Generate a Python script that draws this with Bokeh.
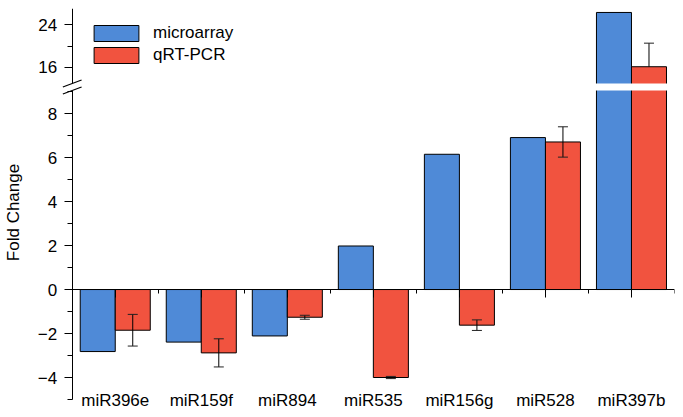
import numpy as np
from bokeh.plotting import figure
from bokeh.models import (Range1d, LinearAxis, FixedTicker, ColumnDataSource, Whisker, TeeHead,
                          BoxAnnotation, Legend, LegendItem)
from bokeh.embed import file_html
from bokeh.resources import INLINE

# ---------------- data ----------------
categories = ["miR396e", "miR159f", "miR894", "miR535", "miR156g", "miR528", "miR397b"]
microarray = [-2.82, -2.39, -2.11, 1.98, 6.15, 6.91, 26.26]
qrt_pcr = [-1.85, -2.88, -1.26, -4.00, -1.62, 6.71, 16.13]
qrt_pcr_err = [0.72, 0.64, 0.09, 0.05, 0.24, 0.69, 4.4]

lower_ticks = [-4, -2, 0, 2, 4, 6, 8]
lower_minor = [-5, -3, -1, 1, 3, 5, 7, 9]
upper_ticks = [16, 24]
upper_minor = [20]

LOW = (-5.0, 9.05)   # lower segment of the broken axis
UP = (13.0, 27.0)    # upper segment of the broken axis

# ---------------- style / layout ----------------
FONT = "Liberation Sans"
FS = "17px"
BLUE = "#4F8AD7"
RED = "#F1533F"

W, H = 682, 416
TOP = 8
FRAME_H = H - TOP
LOW_PX, GAP_PX, UP_PX = 309, 7, 75
BOTTOM_PX = FRAME_H - (LOW_PX + GAP_PX + UP_PX)   # room for category labels inside frame
X0 = 0.45                                         # frame extends left of the y axis
BORDER_L = 33
BORDER_R = W - 674

low_scale = LOW_PX / (LOW[1] - LOW[0])
up_scale = UP_PX / (UP[1] - UP[0])
y_lower = Range1d(LOW[0] - BOTTOM_PX / low_scale,
                  LOW[0] + (FRAME_H - BOTTOM_PX) / low_scale)
y_upper = Range1d(UP[1] - FRAME_H / up_scale, UP[1])

n = len(categories)
x_range = Range1d(-X0, n)

p = figure(width=W, height=H, x_range=x_range, y_range=y_lower,
           output_backend="svg", toolbar_location=None,
           min_border_left=BORDER_L, min_border_right=BORDER_R,
           min_border_top=TOP, min_border_bottom=0,
           x_axis_type=None, y_axis_type=None, outline_line_color=None,
           background_fill_color="white", border_fill_color="white")
p.extra_y_ranges = {"up": y_upper}

centers = np.arange(n) + 0.5
bw = 0.407
xb = centers - bw / 2
xr = centers + bw / 2
mic = np.array(microarray)
q = np.array(qrt_pcr)
e = np.array(qrt_pcr_err)

# lower segment bars (clipped into the hidden gap)
clip_top = LOW[1] + 0.2
low_src = ColumnDataSource(dict(xb=xb, xr=xr,
                                mic=np.minimum(mic, clip_top),
                                q=np.minimum(q, clip_top)))
rb = p.vbar(x="xb", top="mic", bottom=0, width=bw, source=low_src,
            fill_color=BLUE, line_color="black", line_width=1)
rr = p.vbar(x="xr", top="q", bottom=0, width=bw, source=low_src,
            fill_color=RED, line_color="black", line_width=1)

# upper segment bars
mb = mic > UP[0]
mr = q > UP[0]
p.vbar(x=xb[mb], top=mic[mb], bottom=UP[0] - 0.5, width=bw, y_range_name="up",
       fill_color=BLUE, line_color="black", line_width=1)
p.vbar(x=xr[mr], top=q[mr], bottom=UP[0] - 0.5, width=bw, y_range_name="up",
       fill_color=RED, line_color="black", line_width=1)

# error bars
lm = q <= LOW[1]
wsrc = ColumnDataSource(dict(x=xr[lm], upper=(q + e)[lm], lower=(q - e)[lm]))
p.add_layout(Whisker(base="x", upper="upper", lower="lower", source=wsrc, level="annotation",
                     line_color="black", line_width=1,
                     upper_head=TeeHead(size=10, line_color="#222222", line_width=1),
                     lower_head=TeeHead(size=10, line_color="#222222", line_width=1)))
wsrc2 = ColumnDataSource(dict(x=xr[mr], upper=(q + e)[mr], lower=q[mr]))
p.add_layout(Whisker(base="x", upper="upper", lower="lower", source=wsrc2, level="annotation",
                     y_range_name="up", line_color="black", line_width=1,
                     upper_head=TeeHead(size=10, line_color="#222222", line_width=1),
                     lower_head=None))

# white band of the axis break
gap_top = LOW[1] + GAP_PX / low_scale
p.add_layout(BoxAnnotation(left=0, right=n, bottom=LOW[1], top=gap_top,
                           fill_color="white", fill_alpha=1, line_color=None, level="annotation"))

# break marks
brk = p.scatter(x=[0, 0], y=[LOW[1], gap_top], marker="dash", size=20, angle=0.36,
                line_color="black", line_width=1.2)
brk.level = "overlay"

def style_y(ax):
    ax.axis_line_color = "black"
    ax.axis_line_width = 1
    ax.major_tick_out = 8
    ax.major_tick_in = 0
    ax.minor_tick_out = 5
    ax.minor_tick_in = 0
    ax.major_tick_line_color = "black"
    ax.minor_tick_line_color = "black"
    ax.major_label_standoff = 7
    ax.major_label_text_font = FONT
    ax.major_label_text_font_size = FS
    ax.major_label_text_color = "black"

ax_low = LinearAxis(fixed_location=0, bounds=LOW,
                    ticker=FixedTicker(ticks=lower_ticks, minor_ticks=lower_minor))
style_y(ax_low)
p.add_layout(ax_low, "left")

ax_up = LinearAxis(y_range_name="up", fixed_location=0, bounds=UP,
                   ticker=FixedTicker(ticks=upper_ticks, minor_ticks=upper_minor))
style_y(ax_up)
p.add_layout(ax_up, "left")

ax_lab = LinearAxis(ticker=FixedTicker(ticks=[]),
                    axis_line_color=None, major_tick_line_color=None, minor_tick_line_color=None,
                    axis_label="Fold Change", axis_label_standoff=11,
                    axis_label_text_font=FONT, axis_label_text_font_size=FS,
                    axis_label_text_font_style="normal", axis_label_text_color="black")
p.add_layout(ax_lab, "left")

# zero line with category ticks
ax_zero = LinearAxis(fixed_location=0, bounds=(0, n),
                     ticker=FixedTicker(ticks=list(centers), minor_ticks=list(range(n + 1))),
                     axis_line_color="black", major_tick_out=8, major_tick_in=0,
                     minor_tick_out=4, minor_tick_in=0,
                     major_tick_line_color="black", minor_tick_line_color="black",
                     major_label_text_alpha=0, major_label_text_font_size="1px")
p.add_layout(ax_zero, "below")

# category labels at the bottom of the lower segment
ax_cat = LinearAxis(fixed_location=LOW[0], ticker=FixedTicker(ticks=list(centers)),
                    major_label_overrides={float(c): name for c, name in zip(centers, categories)},
                    axis_line_color=None, major_tick_line_color=None, minor_tick_line_color=None,
                    major_tick_out=0, major_tick_in=0, minor_tick_out=0, minor_tick_in=0,
                    major_label_standoff=-9,
                    major_label_text_font=FONT, major_label_text_font_size=FS,
                    major_label_text_color="black")
p.add_layout(ax_cat, "below")

legend = Legend(items=[LegendItem(label="microarray", renderers=[rb]),
                       LegendItem(label="qRT-PCR", renderers=[rr])],
                location=(55, FRAME_H - 15 - 42), orientation="vertical",
                glyph_width=56, glyph_height=20, label_standoff=9, label_height=20,
                spacing=2, padding=0, margin=0, border_line_color=None,
                background_fill_alpha=0,
                label_text_font=FONT, label_text_font_size=FS, label_text_color="black")
p.add_layout(legend)

open("out.html", "w").write(file_html(p, INLINE))
